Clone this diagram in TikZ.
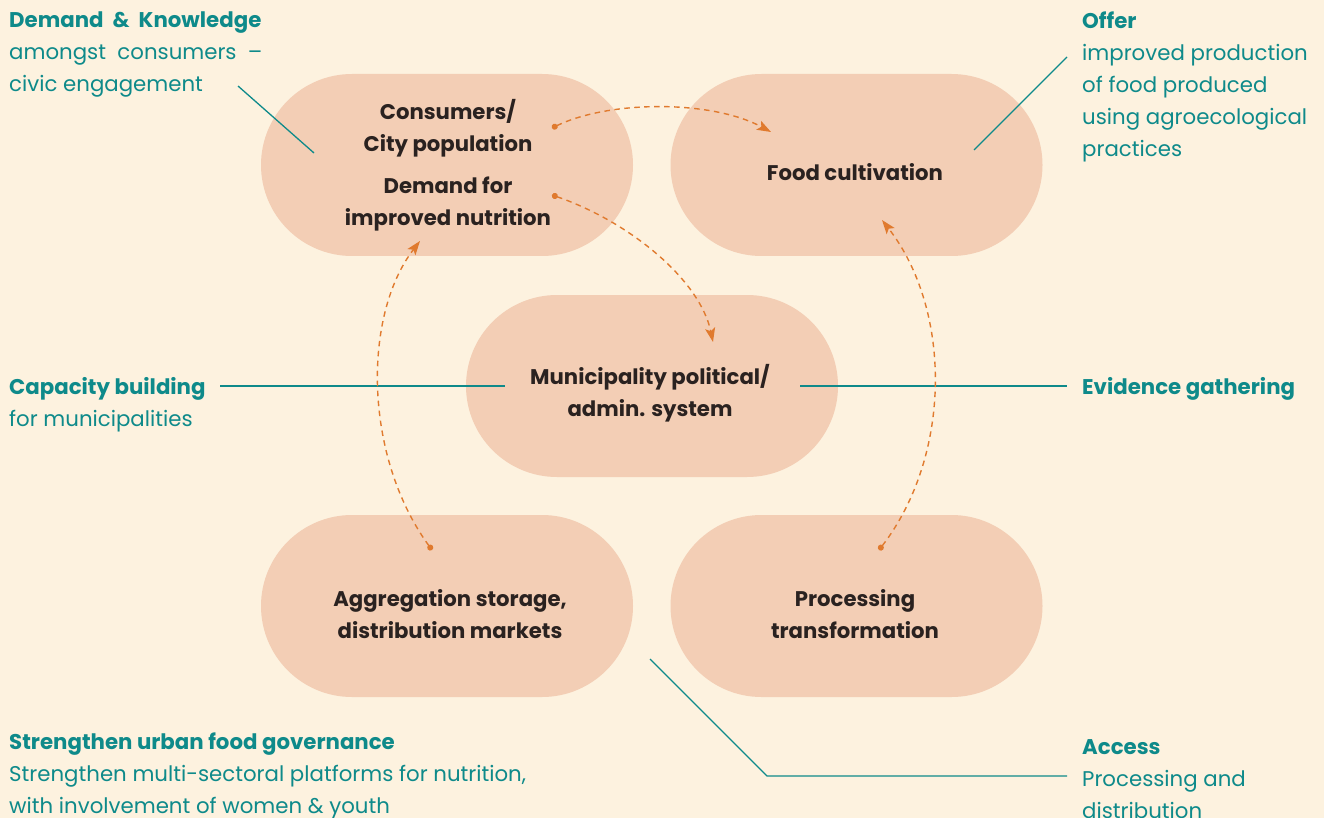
\documentclass[tikz,border=0pt]{standalone}
\usepackage{fontspec}
\setmainfont{Poppins}
\usetikzlibrary{arrows.meta,shapes.misc}
\definecolor{bgc}{HTML}{FDF2DF}
\definecolor{pillc}{HTML}{F3CEB5}
\definecolor{tealc}{HTML}{0E8A8A}
\definecolor{orangec}{HTML}{E07A2E}
\definecolor{darkc}{HTML}{2A2220}
\tikzset{
  pillbox/.style={shape=rounded rectangle, fill=pillc, draw=none, minimum width=372pt, minimum height=182pt, inner sep=0pt},
  pilltext/.style={text=darkc, align=center, font=\bfseries\fontsize{21.2}{32}\selectfont, inner sep=0pt},
  lbl/.style={text=tealc, align=left, anchor=base west, inner sep=0pt, font=\fontsize{21.3}{32}\selectfont},
  thinline/.style={draw=tealc, line width=1.3pt},
  thickline/.style={draw=tealc, line width=2.6pt},
  flow/.style={draw=orangec, line width=1.4pt, dash pattern=on 5.5pt off 4.5pt, {Circle[length=6pt]}-{Stealth[length=14pt,width=10pt,inset=3pt]}},
}
\begin{document}
\begin{tikzpicture}[x=1pt,y=-1pt]
\useasboundingbox (0,0) rectangle (1324,818);
\fill[bgc] (0,0) rectangle (1324,818);

% pills
\node[pillbox] (cons) at (447,165) {};
\node[pillbox] (food) at (856.5,165) {};
\node[pillbox] (muni) at (652,386) {};
\node[pillbox] (aggr) at (447,606) {};
\node[pillbox] (proc) at (856.5,606) {};

% pill texts
\node[pilltext] (t1) at (448,128) {Consumers/\\City population};
\node[pilltext] (t2) at (448,204) {Demand for\\improved nutrition};
\node[pilltext] (t3) at (855,172) {Food cultivation};
\node[pilltext] (t4) at (650,393) {Municipality political/\\admin. system};
\node[pilltext] (t5) at (450,614) {Aggregation storage,\\distribution markets};
\node[pilltext] (t6) at (855,614) {Processing\\transformation};

% labels (anchored at baseline of last line)
\node[lbl] (l1) at (9,92) {\textbf{Demand\ \ \&\ \ Knowledge}\\amongst\ \ consumers\ \ –\\civic engagement};
\node[lbl] (l2) at (1082,157) {\textbf{Offer}\\improved production\\of food produced\\using agroecological\\practices};
\node[lbl] (l3) at (9,426) {\textbf{Capacity building}\\for municipalities};
\node[lbl] (l4) at (1082,394) {\textbf{Evidence gathering}};
\node[lbl] (l5) at (9,813) {\textbf{Strengthen urban food governance}\\Strengthen multi-sectoral platforms for nutrition,\\with involvement of women \& youth};
\node[lbl] (l6) at (1082,818) {\textbf{Access}\\Processing and\\distribution};

% teal connectors
\coordinate (a1) at (238,86);
\coordinate (a2) at (314,153);
\draw[thinline] (a1) -- (a2);
\coordinate (b1) at (1067,57);
\coordinate (b2) at (974,150);
\draw[thinline] (b1) -- (b2);
\coordinate (c1) at (220,386);
\coordinate (c2) at (505,386);
\draw[thickline] (c1) -- (c2);
\coordinate (d1) at (800,386);
\coordinate (d2) at (1067,386);
\draw[thickline] (d1) -- (d2);
\coordinate (e1) at (650,659);
\coordinate (e2) at (767,776);
\coordinate (e3) at (1067,776);
\draw[thinline] (e1) -- (e2) -- (e3);

% orange flows
\coordinate (f1s) at (552,128);
\coordinate (f1e) at (771,132);
\draw[flow] (f1s) .. controls (610,100) and (712,100) .. (f1e);
\coordinate (f2s) at (552,195);
\coordinate (f2e) at (713,342);
\draw[flow] (f2s) .. controls (630,222) and (700,280) .. (f2e);
\coordinate (f3s) at (432,550);
\coordinate (f3e) at (420,241);
\draw[flow] (f3s) .. controls (363,455) and (363,315) .. (f3e);
\coordinate (f4s) at (879,550);
\coordinate (f4e) at (882,220);
\draw[flow] (f4s) .. controls (952,455) and (952,310) .. (f4e);
\end{tikzpicture}
\end{document}
